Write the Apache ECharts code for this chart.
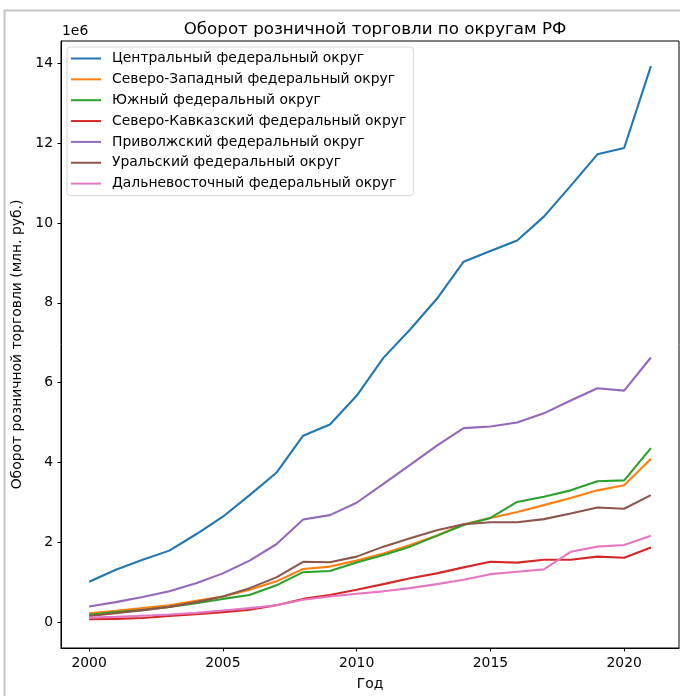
<!DOCTYPE html>
<html>
<head>
<meta charset="utf-8">
<script src="https://cdn.jsdelivr.net/npm/echarts@6/dist/echarts.min.js"></script>
<style>html,body{margin:0;padding:0;background:#fff;}#c{width:680px;height:696px;}</style>
</head>
<body>
<div id="c"></div>
<script>
// Years
const years = [2000,2001,2002,2003,2004,2005,2006,2007,2008,2009,2010,2011,2012,2013,2014,2015,2016,2017,2018,2019,2020,2021];
// Retail turnover, in units of 1e6 (mln. rub.)
const central      = [1.01,1.31,1.56,1.79,2.20,2.64,3.18,3.74,4.67,4.95,5.67,6.62,7.33,8.10,9.03,9.30,9.56,10.16,10.93,11.72,11.88,13.93];
const northWest    = [0.22,0.28,0.35,0.42,0.53,0.64,0.81,1.02,1.33,1.39,1.54,1.72,1.93,2.17,2.45,2.61,2.76,2.93,3.11,3.30,3.43,4.09];
const south        = [0.18,0.25,0.30,0.38,0.47,0.58,0.68,0.92,1.25,1.28,1.49,1.68,1.89,2.16,2.43,2.61,3.01,3.14,3.30,3.53,3.55,4.36];
const northCauc    = [0.07,0.08,0.10,0.15,0.20,0.25,0.31,0.42,0.58,0.68,0.81,0.95,1.10,1.22,1.37,1.51,1.49,1.56,1.56,1.64,1.61,1.87];
const volga        = [0.39,0.50,0.63,0.77,0.97,1.22,1.54,1.95,2.57,2.68,2.99,3.46,3.94,4.42,4.86,4.90,5.00,5.23,5.55,5.86,5.80,6.63];
const ural         = [0.15,0.22,0.30,0.38,0.50,0.64,0.85,1.12,1.51,1.50,1.64,1.89,2.10,2.30,2.45,2.50,2.50,2.58,2.72,2.87,2.84,3.18];
const farEast      = [0.11,0.13,0.16,0.19,0.23,0.29,0.35,0.42,0.56,0.64,0.71,0.77,0.85,0.95,1.06,1.20,1.26,1.32,1.76,1.89,1.93,2.16];

const seriesNames = ['Центральный федеральный округ','Северо-Западный федеральный округ','Южный федеральный округ','Северо-Кавказский федеральный округ','Приволжский федеральный округ','Уральский федеральный округ','Дальневосточный федеральный округ'];
const seriesData = [central, northWest, south, northCauc, volga, ural, farEast];
const colors = ['#1f77b4','#ff7f0e','#2ca02c','#d62728','#9467bd','#8c564b','#e377c2'];
const xTicks = [2000,2005,2010,2015,2020];
const yTicks = [0,2,4,6,8,10,12,14];

const FONT = 'DejaVu Sans';
const chart = echarts.init(document.getElementById('c'), null, {renderer:'canvas'});
const series = seriesNames.map((n,i)=>({
  name:n, type:'line', data: years.map((y,j)=>[y, seriesData[i][j]]),
  symbol:'none', smooth:false, lineStyle:{width:2.1,color:colors[i]}, itemStyle:{color:colors[i]},
  emphasis:{disabled:true}, animation:false
}));
chart.setOption({
  animation:false,
  backgroundColor:'#fff',
  textStyle:{fontFamily:FONT},
  title:{text:'Оборот розничной торговли по округам РФ', left:370, top:16, textAlign:'center',
    textStyle:{fontFamily:FONT,fontSize:16.7,fontWeight:'normal',color:'#000'}},
  graphic:[
    {type:'rect', shape:{x:4.5,y:10.5,width:720,height:720}, style:{fill:'none',stroke:'#c4c4c4',lineWidth:2}, silent:true, z:-10},
    {type:'text', left:62, top:24, style:{text:'1e6', font:'13.9px "DejaVu Sans"', fill:'#000'}}
  ],
  legend:{
    orient:'vertical', left:67, top:47, data:seriesNames,
    icon:'rect', itemWidth:30, itemHeight:2, itemGap:4.85,
    padding:[3.5,7,4,4],
    borderColor:'#d6d6d6', borderWidth:1, borderRadius:3, backgroundColor:'rgba(255,255,255,0.8)',
    textStyle:{fontFamily:FONT,fontSize:13.9,color:'#000',lineHeight:16,padding:[0,0,0,6]},
    selectedMode:false
  },
  grid:{left:61, right:1, top:41, bottom:46, containLabel:false, show:true, borderColor:'#000', borderWidth:1},
  xAxis:{
    type:'value', min:1998.95, max:2022.05,
    name:'Год', nameLocation:'middle', nameGap:29,
    nameTextStyle:{fontFamily:FONT,fontSize:13.9,color:'#000'},
    axisLine:{show:true, onZero:false, lineStyle:{color:'#000',width:1}},
    axisTick:{show:true, length:3.5, customValues:xTicks, lineStyle:{color:'#000'}},
    axisLabel:{customValues:xTicks, margin:8, fontFamily:FONT, fontSize:13.9, color:'#000', formatter:v=>String(v)},
    splitLine:{show:false}
  },
  yAxis:{
    type:'value', min:-0.65, max:14.56,
    name:'Оборот розничной торговли (млн. руб.)', nameLocation:'middle', nameGap:35,
    nameTextStyle:{fontFamily:FONT,fontSize:13.9,color:'#000'},
    axisLine:{show:true, onZero:false, lineStyle:{color:'#000',width:1}},
    axisTick:{show:true, length:3.5, customValues:yTicks, lineStyle:{color:'#000'}},
    axisLabel:{customValues:yTicks, margin:8, fontFamily:FONT, fontSize:13.9, color:'#000', formatter:v=>String(v)},
    splitLine:{show:false}
  },
  series:series
});
</script>
</body>
</html>
